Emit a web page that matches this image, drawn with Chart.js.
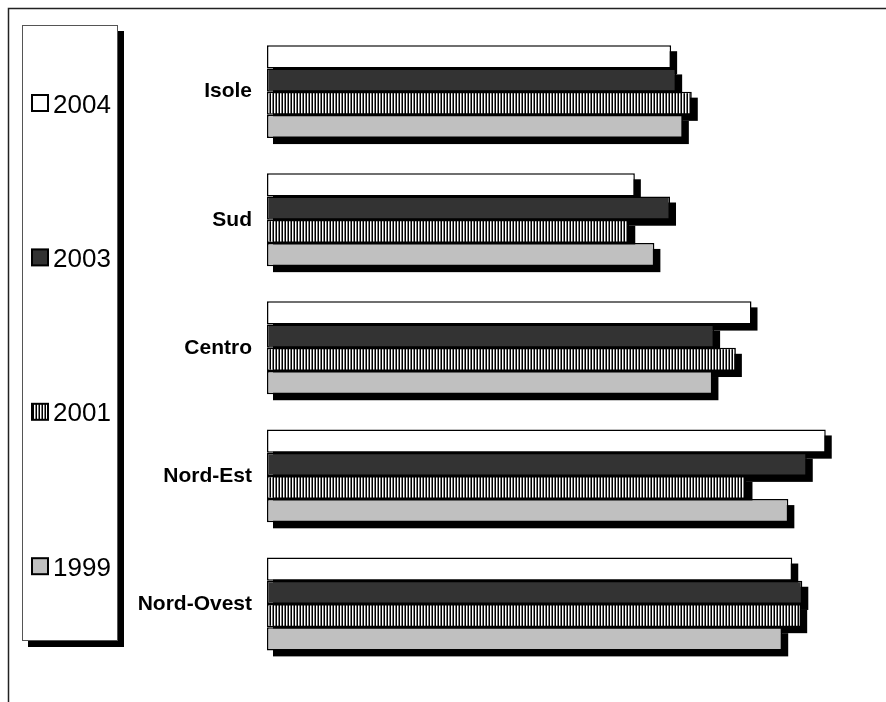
<!DOCTYPE html>
<html>
<head>
<meta charset="utf-8">
<script src="https://cdn.jsdelivr.net/npm/chart.js@4/dist/chart.umd.min.js"></script>
<style>
  html, body { margin: 0; padding: 0; background: #fff; }
  #wrap { width: 886px; height: 702px; position: relative; }
</style>
</head>
<body>
<div id="wrap"><canvas id="c" width="886" height="702"></canvas></div>
<script>
// Regions (top to bottom) and survey years
const regions = ['Isole', 'Sud', 'Centro', 'Nord-Est', 'Nord-Ovest'];
const years = ['2004', '2003', '2001', '1999'];

// Values per year, in region order
const v2004 = [72.4, 65.9, 86.8, 100.1, 94.1];
const v2003 = [73.3, 72.2, 80.1, 96.7, 95.9];
const v2001 = [76.1, 64.9, 84.0, 85.9, 95.7];
const v1999 = [74.5, 69.4, 79.8, 93.4, 92.3];

// Vertical hatching for the 2001 series
function stripePattern() {
  const p = document.createElement('canvas');
  p.width = 3; p.height = 1;
  const g = p.getContext('2d');
  g.fillStyle = '#000'; g.fillRect(0, 0, 1, 1);
  g.fillStyle = '#fff'; g.fillRect(1, 0, 1, 1);
  g.fillStyle = '#7a7a7a'; g.fillRect(2, 0, 1, 1);
  return g.createPattern(p, 'repeat');
}

const ctx0 = document.getElementById('c').getContext('2d');
const stripes = stripePattern();
const fills = ['#ffffff', '#333333', stripes, '#c0c0c0'];
const series = [v2004, v2003, v2001, v1999];

const SHADOW = 6;

// Solid black drop shadow behind every bar
const barShadow = {
  id: 'barShadow',
  beforeDatasetsDraw(chart) {
    const ctx = chart.ctx;
    ctx.save();
    ctx.fillStyle = '#000';
    chart.data.datasets.forEach((ds, i) => {
      const meta = chart.getDatasetMeta(i);
      meta.data.forEach(el => {
        const p = el.getProps(['x', 'y', 'base', 'height'], true);
        const left = Math.min(p.x, p.base);
        const w = Math.abs(p.x - p.base);
        ctx.fillRect(left + SHADOW, p.y - p.height / 2 + SHADOW, w, p.height);
      });
    });
    ctx.restore();
  }
};

// Outer frame and the tall legend panel on the left
const framePanel = {
  id: 'framePanel',
  afterDraw(chart) {
    const ctx = chart.ctx;
    ctx.save();
    // frame
    ctx.strokeStyle = '#222';
    ctx.lineWidth = 1.5;
    ctx.beginPath();
    ctx.moveTo(8.5, 702);
    ctx.lineTo(8.5, 8.5);
    ctx.lineTo(886, 8.5);
    ctx.stroke();

    // legend panel with shadow
    const bx = 22, by = 25, bw = 96, bh = 616;
    ctx.fillStyle = '#000';
    ctx.fillRect(bx + SHADOW, by + SHADOW, bw, bh);
    ctx.fillStyle = '#fff';
    ctx.fillRect(bx, by, bw, bh);
    ctx.strokeStyle = '#555';
    ctx.lineWidth = 1;
    ctx.strokeRect(bx + 0.5, by + 0.5, bw - 1, bh - 1);

    // entries
    const first = 103, step = 154.4;
    ctx.font = '26px "Liberation Sans", Arial, sans-serif';
    ctx.textBaseline = 'alphabetic';
    ctx.textAlign = 'left';
    chart.data.datasets.forEach((ds, i) => {
      const cy = first + step * i;
      ctx.fillStyle = ds.backgroundColor;
      ctx.fillRect(32, cy - 8, 16, 16);
      ctx.strokeStyle = '#000';
      ctx.lineWidth = 2;
      ctx.strokeRect(32, cy - 8, 16, 16);
      ctx.fillStyle = '#000';
      ctx.fillText(ds.label, 53, cy + 9.5);
    });
    ctx.restore();
  }
};

new Chart(ctx0, {
  type: 'bar',
  data: {
    labels: regions,
    datasets: years.map((y, i) => ({
      label: y,
      data: series[i],
      backgroundColor: fills[i],
      borderColor: '#000',
      borderWidth: 1.5,
      borderSkipped: false,
      categoryPercentage: 0.725,
      barPercentage: 1.0
    }))
  },
  options: {
    indexAxis: 'y',
    responsive: false,
    animation: false,
    devicePixelRatio: 1,
    layout: { padding: { left: 100, right: 5, top: 27, bottom: 34 } },
    plugins: {
      legend: { display: false },
      tooltip: { enabled: false }
    },
    scales: {
      x: { display: false, min: 0, max: 110 },
      y: {
        grid: { display: false, drawTicks: false },
        border: { display: false },
        ticks: {
          color: '#000',
          padding: 15,
          font: { family: '"Liberation Sans", Arial, sans-serif', size: 21, weight: 'bold' }
        },
        afterFit(scale) { scale.width = 167; }
      }
    }
  },
  plugins: [barShadow, framePanel]
});
</script>
</body>
</html>
